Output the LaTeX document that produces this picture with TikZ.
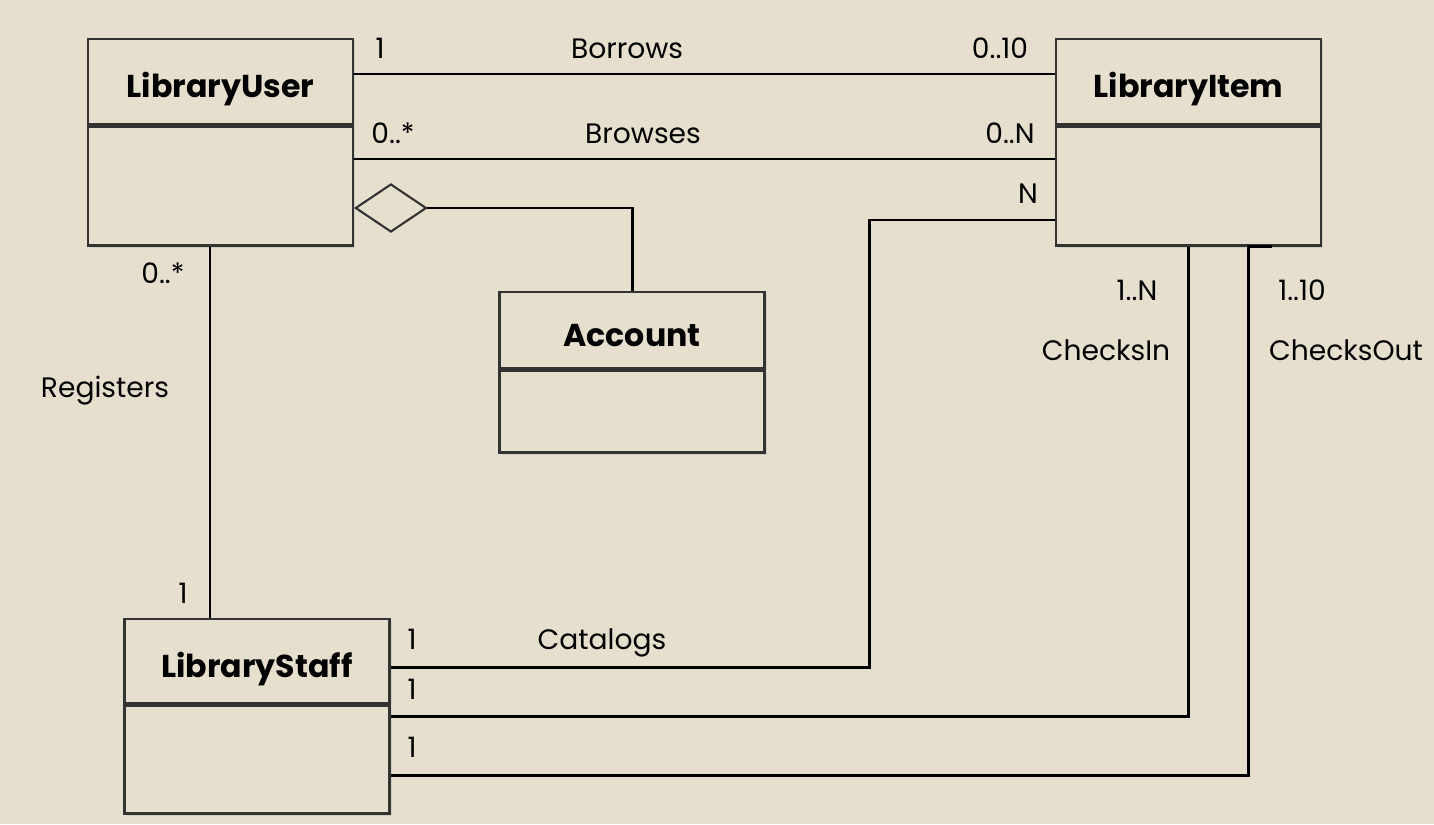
\documentclass[tikz,border=0pt]{standalone}
\usepackage{fontspec}
\setmainfont{Poppins}
\usetikzlibrary{positioning,shapes.geometric,shadows}
\definecolor{paper}{RGB}{230,223,206}

\begin{document}
\begin{tikzpicture}[x=0.01cm, y=-0.01cm,
                    cls/.style={draw=black!80, line width=0.7pt, fill=paper,
                                minimum width=2.65cm, inner sep=0pt,
                                text height=0.32cm, text depth=0pt,
                                font=\fontsize{9}{10}\selectfont\bfseries,
                                drop shadow={opacity=0.2, shadow xshift=0.6pt,
                                             shadow yshift=-0.6pt}},
                    body/.style={cls},
                    agg/.style={diamond, draw=black!80, line width=0.6pt, fill=paper,
                                minimum width=0.71cm, minimum height=0.48cm,
                                inner sep=0pt, anchor=west},
                    lnk/.style={line width=0.85pt},
                    lbl/.style={anchor=base, inner sep=0pt,
                                font=\fontsize{8}{10}\selectfont}]
    \fill[paper] (0,0) rectangle (1434,824);

    \node[cls, minimum height=0.85cm] (user) at (220.5,81.5) {LibraryUser};
    \node[body, minimum height=1.19cm, below=0pt of user] (userb) {};
    \node[cls, minimum height=0.85cm] (item) at (1188.5,81.5) {LibraryItem};
    \node[body, minimum height=1.19cm, below=0pt of item] (itemb) {};
    \node[cls, minimum height=0.76cm] (acct) at (632,330) {Account};
    \node[body, minimum height=0.82cm, below=0pt of acct] (acctb) {};
    \node[cls, minimum height=0.84cm] (staff) at (257,661) {LibraryStaff};
    \node[body, minimum height=1.08cm, below=0pt of staff] (staffb) {};

    \draw[lnk] (user.east |- 0,74) -- (item.west |- 0,74);
    \draw[lnk] (userb.east |- 0,159) -- (itemb.west |- 0,159);
    \node[agg] (own) at (userb.east |- 0,208) {};
    \draw[lnk] (own.east) -| (acct.north);
    \coordinate (catbend) at (869,667);
    \draw[lnk] (itemb.west |- 0,220) -| (catbend) -- (staff.east |- catbend);
    \draw[lnk] (userb.south -| 210,0) -- (staff.north -| 210,0);
    \draw[lnk] (itemb.south) |- (staffb.east |- 0,716);
    \draw[lnk] (itemb.south -| 1272,0) -- (itemb.south -| 1248,0)
               |- (staffb.east |- 0,775);

    \node[lbl] (m1) at (380,58) {1};
    \node[lbl] (borrows) at (627,58) {Borrows};
    \node[lbl] (m2) at (1000,58) {0..10};
    \node[lbl] (m3) at (393,143) {0..*};
    \node[lbl] (browses) at (643,143) {Browses};
    \node[lbl] (m4) at (1010,143) {0..N};
    \node[lbl] (m5) at (1028,203) {N};
    \node[lbl] (m6) at (163,283) {0..*};
    \node[lbl] (registers) at (105,397) {Registers};
    \node[lbl] (m7) at (183,603) {1};
    \node[lbl] (m8) at (412,649) {1};
    \node[lbl] (catalogs) at (602,649) {Catalogs};
    \node[lbl] (m9) at (412,699) {1};
    \node[lbl] (m10) at (412,757) {1};
    \node[lbl] (m11) at (1137,300) {1..N};
    \node[lbl] (checksin) at (1106,360) {ChecksIn};
    \node[lbl] (m12) at (1302,300) {1..10};
    \node[lbl] (checksout) at (1346,360) {ChecksOut};
\end{tikzpicture}
\end{document}
